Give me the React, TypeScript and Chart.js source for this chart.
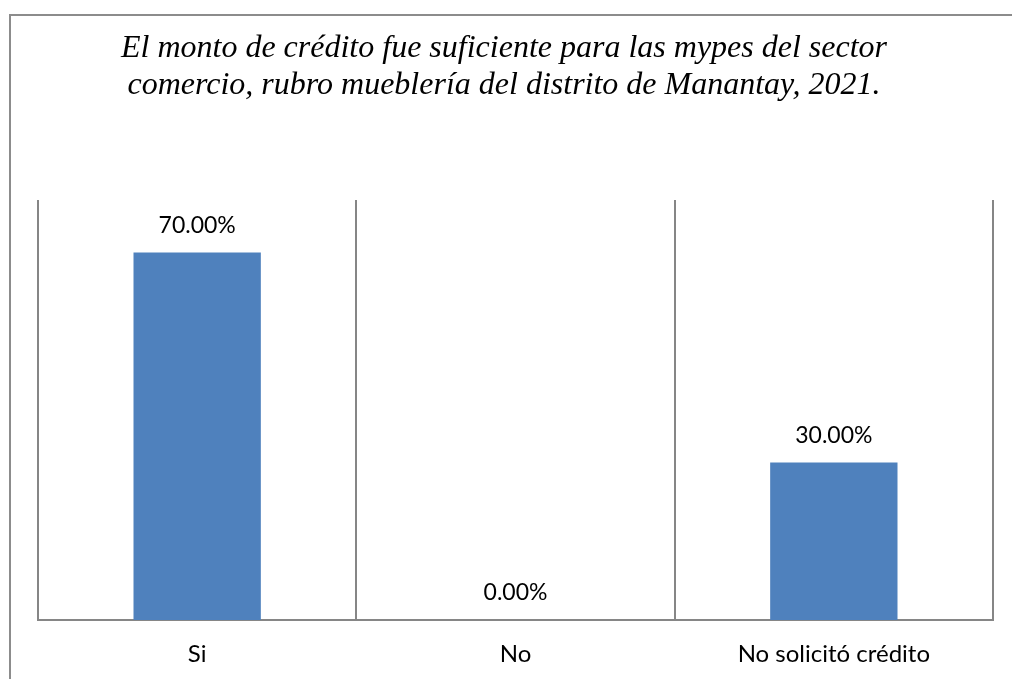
import React, { useEffect, useRef } from "react";
import { Chart, registerables } from "chart.js";

Chart.register(...registerables);

const categories: string[] = ["Si", "No", "No solicitó crédito"];
const values: number[] = [0.7, 0, 0.3];
const titleLines: string[] = [
  "El monto de crédito fue suficiente para las mypes del sector",
  "comercio, rubro mueblería del distrito de Manantay, 2021.",
];
const yMin = 0;
const yMax = 0.8;

const framePlugin = {
  id: "frame",
  beforeDraw(chart: any) {
    const ctx = chart.ctx;
    ctx.save();
    ctx.fillStyle = "#ffffff";
    ctx.fillRect(0, 0, chart.width, chart.height);
    ctx.strokeStyle = "#8c8c8c";
    ctx.lineWidth = 2;
    ctx.strokeRect(10, 15, chart.width + 100, chart.height + 100);
    ctx.restore();
  },
};

const titleShiftPlugin = {
  id: "titleShift",
  afterLayout(chart: any) {
    const tb = chart.titleBlock;
    if (tb) {
      tb.left = 10;
      tb.right = 998;
    }
  },
};

const labelPlugin = {
  id: "valueLabels",
  afterDatasetsDraw(chart: any) {
    const ctx = chart.ctx;
    const meta = chart.getDatasetMeta(0);
    const data = chart.data.datasets[0].data as number[];
    ctx.save();
    ctx.font = "23px Lato";
    ctx.fillStyle = "#000000";
    ctx.textAlign = "center";
    ctx.textBaseline = "alphabetic";
    meta.data.forEach((bar: any, i: number) => {
      const txt = (data[i] * 100).toFixed(2) + "%";
      ctx.fillText(txt, bar.x, bar.y - 20);
    });
    ctx.restore();
  },
};

export default function App() {
  const ref = useRef<HTMLCanvasElement | null>(null);
  useEffect(() => {
    if (!ref.current) return;
    const chart = new Chart(ref.current, {
      type: "bar",
      data: {
        labels: categories,
        datasets: [
          {
            data: values,
            backgroundColor: "#4F81BD",
            borderWidth: 0,
            categoryPercentage: 1,
            barPercentage: 0.4,
          },
        ],
      },
      options: {
        animation: false,
        responsive: true,
        maintainAspectRatio: false,
        layout: { padding: { left: 38, right: 19, top: 0, bottom: 10 } },
        plugins: {
          legend: { display: false },
          tooltip: { enabled: false },
          title: {
            display: true,
            text: titleLines,
            color: "#000000",
            font: { family: "Liberation Serif", style: "italic", size: 32, lineHeight: 1.15, weight: "normal" },
            padding: { top: 30, bottom: 96.4 },
          },
        },
        scales: {
          x: {
            grid: {
              display: true,
              offset: true,
              color: "#868686",
              lineWidth: 2,
              drawTicks: false,
            },
            border: { display: true, color: "#868686", width: 2 },
            ticks: {
              color: "#000000",
              font: { family: "Lato", size: 24 },
              padding: 20,
            },
            afterFit(scale: any) {
              scale.height = 49;
            },
          },
          y: {
            display: false,
            min: yMin,
            max: yMax,
          },
        },
      },
      plugins: [framePlugin, titleShiftPlugin, labelPlugin],
    });
    return () => chart.destroy();
  }, []);
  return (
    <div style={{ position: "absolute", left: 0, top: 0, width: 1012, height: 679 }}>
      <canvas ref={ref} />
    </div>
  );
}
